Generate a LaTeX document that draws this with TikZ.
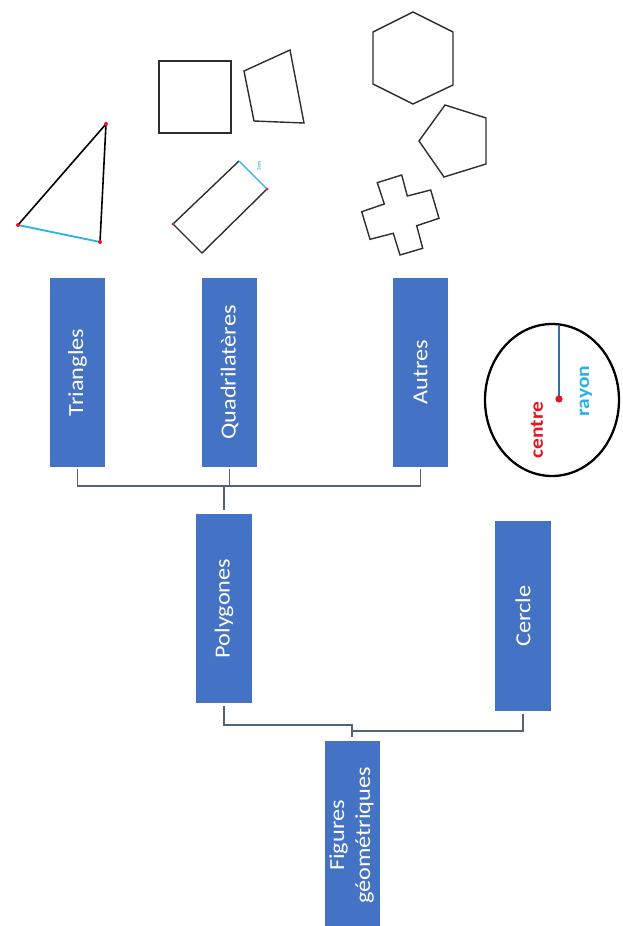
\documentclass[tikz,border=0pt]{standalone}
\usepackage{fontspec}
\setmainfont{Carlito}
\usepackage{graphicx}
\definecolor{boxblue}{HTML}{4472C4}
\definecolor{connc}{HTML}{53617F}
\definecolor{cyanl}{HTML}{29B2E6}
\definecolor{radblue}{HTML}{2A6FB8}
\definecolor{redd}{HTML}{E8141E}
\definecolor{shape}{HTML}{2E2E2E}
\newcommand{\vtext}[1]{\rotatebox{90}{\scalebox{1.13}[1]{#1}}}
\tikzset{
  catbox/.style={fill=boxblue, draw=none, minimum width=55pt, minimum height=189pt,
    inner sep=0pt, text=white, font=\fontsize{21.5}{26}\selectfont},
  conn/.style={draw=connc, line width=1.6pt},
  shp/.style={draw=shape, line width=1.4pt, line join=miter},
  reddot/.style={fill=redd, draw=none},
}
\begin{document}
\begin{tikzpicture}[x=1pt,y=-1pt]
\useasboundingbox (0,0) rectangle (623,926);
\clip (0,0) rectangle (623,926);

% category boxes
\node[catbox] (tri)  at (77.5,372.5) {\vtext{Triangles}};
\node[catbox] (quad) at (229.5,372.5) {\vtext{Quadrilatères}};
\node[catbox] (aut)  at (420.5,372) {\vtext{Autres}};
\node[catbox, minimum width=56pt] (poly) at (224,608.5) {\vtext{Polygones}};
\node[catbox, minimum width=56pt, minimum height=190pt] (cer) at (523,616) {\vtext{Cercle}};
\node[catbox, minimum width=55pt] (fig) at (352,835.5)
  {\vtext{\begin{tabular}{@{}c@{}}Figures\\géométriques\end{tabular}}};

% connectors (upper tree)
\coordinate (j1) at (224,486);
\draw[conn] ([yshift=-2pt]tri.south) -- (tri.south |- j1) -- (aut.south |- j1) -- ([yshift=-2pt]aut.south);
\draw[conn] ([yshift=-2pt]quad.south) -- (quad.south |- j1);
\draw[conn] (j1) -- ([yshift=4pt]poly.north);

% connectors (lower tree)
\coordinate (j2) at (352,725);
\coordinate (j3) at (352,731);
\draw[conn] ([yshift=-3pt]poly.south) |- (j2) -- ([yshift=4pt]fig.north);
\draw[conn] ([yshift=-3pt]cer.south) |- (j3);

% circle
\draw[black, line width=2.3pt] (552,400) ellipse [x radius=67pt, y radius=76pt];
\coordinate (ctr) at (559,399);
\coordinate (rtop) at (559,325);
\draw[radblue, line width=1.8pt] (rtop) -- (ctr);
\fill[reddot] (ctr) circle[radius=3.6pt];
\node[text=redd, font=\bfseries\fontsize{19}{22}\selectfont, inner sep=0pt] (lc) at (537,430) {\vtext{centre}};
\node[text=cyanl, font=\bfseries\fontsize{19}{22}\selectfont, inner sep=0pt] (lr) at (586,391) {\vtext{rayon}};

% triangle
\coordinate (ta) at (106,124);
\coordinate (tb) at (18,225);
\coordinate (tc) at (100,242);
\draw[black, line width=1.6pt, line cap=round] (tb) -- (ta) -- (tc);
\draw[cyanl, line width=1.8pt, line cap=round] (tb) -- (tc);
\foreach \p in {ta,tb,tc} \fill[reddot] (\p) circle[radius=2pt];

% square
\draw[shp, line width=1.8pt] (159,61) rectangle (231,133);

% irregular quadrilateral
\draw[shp] (244,71) -- (290,50) -- (304,123) -- (254,121) -- cycle;

% rotated rectangle
\coordinate (ra) at (239,161);
\coordinate (rb) at (267,189);
\coordinate (rc) at (202,253);
\coordinate (rd) at (173,224);
\draw[shp] (rb) -- (rc) -- (rd) -- (ra);
\draw[cyanl, line width=1.4pt] (ra) -- (rb);
\fill[reddot] (rb) circle[radius=1.5pt];
\fill[reddot] (rd) circle[radius=1.5pt];
\node[text=cyanl, font=\bfseries\fontsize{5}{6}\selectfont, inner sep=0pt, rotate=90] (rl) at (259,166) {3cm};

% hexagon
\draw[shp] (413,12) -- (453,32) -- (453,85) -- (413,104) -- (373,84) -- (373,32) -- cycle;

% pentagon
\draw[shp] (445,105) -- (486,118) -- (486,164) -- (444,177) -- (419,141) -- cycle;

% cross
\draw[shp] (377.3,182.7) -- (401.7,175) -- (407.3,196) -- (430.7,190) -- (439,218.3)
  -- (416.7,225.7) -- (422.7,248.3) -- (400,255) -- (393.3,233.3) -- (370,239.3)
  -- (361.7,211.7) -- (384.3,204) -- cycle;
\end{tikzpicture}
\end{document}
